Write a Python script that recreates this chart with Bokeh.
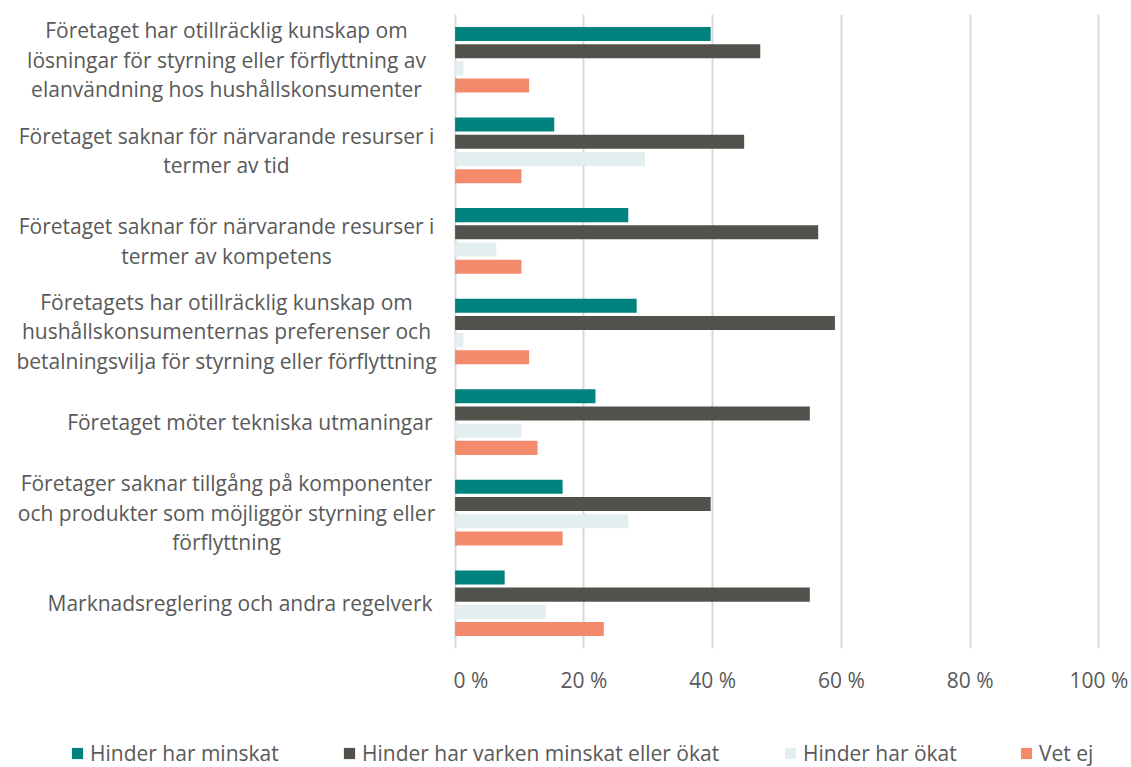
from bokeh.plotting import figure
from bokeh.layouts import column, row
from bokeh.models import (Range1d, FixedTicker, PrintfTickFormatter,
                          Legend, LegendItem, ColumnDataSource)
from bokeh.core.properties import value
from bokeh.embed import file_html
from bokeh.resources import INLINE

# ---- data -------------------------------------------------------------
categories = [
    "Företaget har otillräcklig kunskap om\nlösningar för styrning eller förflyttning av\nelanvändning hos hushållskonsumenter",
    "Företaget saknar för närvarande resurser i\ntermer av tid",
    "Företaget saknar för närvarande resurser i\ntermer av kompetens",
    "Företagets har otillräcklig kunskap om\nhushållskonsumenternas preferenser och\nbetalningsvilja för styrning eller förflyttning",
    "Företaget möter tekniska utmaningar",
    "Företager saknar tillgång på komponenter\noch produkter som möjliggör styrning eller\nförflyttning",
    "Marknadsreglering och andra regelverk",
]
series_names = [
    "Hinder har minskat",
    "Hinder har varken minskat eller ökat",
    "Hinder har ökat",
    "Vet ej",
]
minskat = [39.7, 15.4, 26.9, 28.2, 21.8, 16.7, 7.7]
varken = [47.4, 44.9, 56.4, 59.0, 55.1, 39.7, 55.1]
okat = [1.3, 29.5, 6.4, 1.3, 10.3, 26.9, 14.1]
vet_ej = [11.5, 10.3, 10.3, 11.5, 12.8, 16.7, 23.1]
series_values = [minskat, varken, okat, vet_ej]
x_ticks = [0, 20, 40, 60, 80, 100]

colors = ["#00827F", "#52524D", "#E3EEF0", "#F28A6B"]
FONT = "Open Sans"
TEXT_COLOR = "#595959"

n = len(categories)
TOP_H = 710
LEFT_W = 453

# ---- main bar chart ----------------------------------------------------
p = figure(width=1131 - LEFT_W, height=TOP_H, output_backend="svg",
           toolbar_location=None,
           x_range=Range1d(-0.25, 100.25), y_range=Range1d(n - 0.5, -0.5),
           min_border_left=0, min_border_right=31, min_border_top=14,
           min_border_bottom=TOP_H - 648)
p.outline_line_color = None

step = 0.19
bar_h = 0.155
sources = []
for j, vals in enumerate(series_values):
    ys = [i + (j - 1.5) * step for i in range(n)]
    src = ColumnDataSource(dict(y=ys, right=vals))
    sources.append(src)
    p.hbar(y="y", right="right", left=0, height=bar_h, source=src,
           fill_color=colors[j], line_color=None)

p.yaxis.visible = False
p.ygrid.visible = False
xa = p.xaxis[0]
xa.ticker = FixedTicker(ticks=x_ticks)
xa.formatter = PrintfTickFormatter(format="%d %%")
xa.axis_line_color = None
xa.major_tick_line_color = None
xa.minor_tick_line_color = None
xa.major_label_standoff = 11
xa.major_label_text_font = FONT
xa.major_label_text_font_size = "21px"
xa.major_label_text_color = TEXT_COLOR
p.xgrid.ticker = FixedTicker(ticks=x_ticks)
p.xgrid.grid_line_color = "#D9D9D9"
p.xgrid.grid_line_width = 2

# ---- category labels (left panel sharing the y scale) -----------------
lab = figure(width=LEFT_W, height=TOP_H, output_backend="svg",
             toolbar_location=None, x_range=Range1d(0, LEFT_W),
             y_range=p.y_range, min_border_left=0, min_border_right=0,
             min_border_top=14, min_border_bottom=TOP_H - 648)
lab.outline_line_color = None
lab.axis.visible = False
lab.grid.visible = False
multi = ["\n" in c for c in categories]
lab_src = ColumnDataSource(dict(
    y=list(range(n)),
    x=[226 if m else 432 for m in multi],
    align=["center" if m else "right" for m in multi],
    text=categories))
lab.text(x="x", y="y", text="text", source=lab_src, text_align="align",
         text_baseline="middle", text_font=value(FONT),
         text_font_size="21px", text_color=TEXT_COLOR,
         text_line_height=1.06)

# ---- legend strip (renderers share the data, drawn outside its view) ---
leg = figure(width=1131, height=767 - TOP_H, output_backend="svg",
             toolbar_location=None, x_range=Range1d(0, 1),
             y_range=Range1d(100, 101), min_border=0)
leg.outline_line_color = None
leg.axis.visible = False
leg.grid.visible = False
legend_x = [70, 342, 783, 1019]
for j, name in enumerate(series_names):
    r = leg.hbar(y="y", right="right", left=0, height=bar_h,
                 source=sources[j], fill_color=colors[j], line_color=None)
    lg = Legend(items=[LegendItem(label=name, renderers=[r])],
                location=(legend_x[j], 0), orientation="horizontal",
                glyph_width=14, glyph_height=14, label_standoff=6,
                padding=0, margin=0, border_line_alpha=0,
                background_fill_alpha=0, label_text_font=FONT,
                label_text_font_size="21px", label_text_color=TEXT_COLOR,
                label_height=14)
    leg.add_layout(lg, "center")

layout = column(row(lab, p), leg)
open("out.html", "w").write(file_html(layout, INLINE))
